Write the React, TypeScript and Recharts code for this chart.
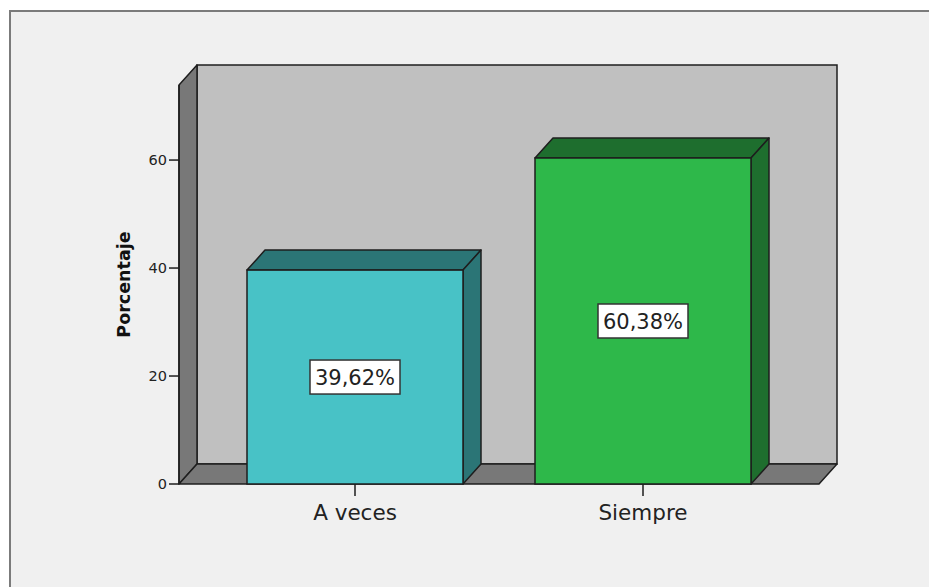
import React from 'react';
import { BarChart, Bar, XAxis, YAxis, ReferenceArea, LabelList, Label } from 'recharts';

const categories = ['A veces', 'Siempre'];
const percentages = [39.62, 60.38];
const valueLabels = ['39,62%', '60,38%'];
const yTicks = [0, 20, 40, 60];
const yMax = 73.9;

const FRONT = ['#48c2c6', '#2eb84a'];
const SIDE = ['#2b7576', '#1e6e2e'];
const EDGE = '#1e1e1e';
const DX = 18;
const DY = 20;
const PAD = 32;
const FONT = '"DejaVu Sans", sans-serif';

const data = categories.map((c, i) => ({ name: c, value: percentages[i], label: valueLabels[i] }));

const Walls = (props: any) => {
  const { x, y, width, height } = props;
  const L = x - PAD;
  const R = x + width + PAD;
  const T = y;
  const B = y + height;
  return (
    <g>
      <rect x={L + DX} y={T - DY} width={R - L} height={B - T} fill="#c0c0c0" stroke={EDGE} strokeWidth={1.5} />
      <polygon
        points={`${L},${T} ${L + DX},${T - DY} ${L + DX},${B - DY} ${L},${B}`}
        fill="#787878"
        stroke={EDGE}
        strokeWidth={1.5}
        strokeLinejoin="round"
      />
      <polygon
        points={`${L},${B} ${L + DX},${B - DY} ${R + DX},${B - DY} ${R},${B}`}
        fill="#787878"
        stroke={EDGE}
        strokeWidth={1.5}
        strokeLinejoin="round"
      />
    </g>
  );
};

const Bar3D = (props: any) => {
  const { x, y, width, height, index } = props;
  const f = FRONT[index % FRONT.length];
  const s = SIDE[index % SIDE.length];
  return (
    <g>
      <polygon
        points={`${x},${y} ${x + DX},${y - DY} ${x + width + DX},${y - DY} ${x + width},${y}`}
        fill={s}
        stroke={EDGE}
        strokeWidth={1.5}
        strokeLinejoin="round"
      />
      <polygon
        points={`${x + width},${y} ${x + width + DX},${y - DY} ${x + width + DX},${y + height - DY} ${x + width},${y + height}`}
        fill={s}
        stroke={EDGE}
        strokeWidth={1.5}
        strokeLinejoin="round"
      />
      <rect x={x} y={y} width={width} height={height} fill={f} stroke={EDGE} strokeWidth={1.5} />
    </g>
  );
};

const ValueBox = (props: any) => {
  const vb = props.viewBox && props.viewBox.width != null ? props.viewBox : props;
  const { x, y, width, height } = vb;
  const cx = x + width / 2;
  const cy = y + height / 2;
  const w = 90;
  const h = 34;
  return (
    <g>
      <rect x={cx - w / 2} y={cy - h / 2} width={w} height={h} fill="#ffffff" stroke="#333" strokeWidth={1.5} />
      <text
        x={cx}
        y={cy + 1}
        textAnchor="middle"
        dominantBaseline="central"
        fontFamily={FONT}
        fontSize={21}
        fill="#222"
      >
        {props.value}
      </text>
    </g>
  );
};

const YTitle = (props: any) => {
  const vb = props.viewBox;
  const cx = vb.x + 5;
  const cy = vb.y + vb.height / 2;
  return (
    <text
      x={cx}
      y={cy}
      transform={`rotate(-90, ${cx}, ${cy})`}
      textAnchor="middle"
      dominantBaseline="central"
      fontFamily={FONT}
      fontWeight="bold"
      fontSize={17.5}
      fill="#111"
    >
      Porcentaje
    </text>
  );
};

export default function App() {
  return (
    <div
      style={{
        position: 'fixed',
        left: 0,
        top: 0,
        width: 929,
        height: 587,
        overflow: 'hidden',
        background: '#ffffff',
      }}
    >
      <div
        style={{
          position: 'absolute',
          left: 9,
          top: 10,
          width: 920,
          height: 577,
          boxSizing: 'border-box',
          background: '#f0f0f0',
          borderTop: '2px solid #7b7b7b',
          borderLeft: '2px solid #7b7b7b',
        }}
      />
      <div style={{ position: 'absolute', left: 0, top: 0 }}>
        <BarChart
          width={929}
          height={587}
          data={data}
          margin={{ top: 85, right: 110, bottom: 63, left: 119 }}
          barSize={216}
        >
          <ReferenceArea y1={0} y2={yMax} ifOverflow="visible" shape={<Walls />} />
          <XAxis
            dataKey="name"
            padding={{ left: PAD, right: PAD }}
            axisLine={false}
            tickSize={12}
            tickMargin={9}
            tickLine={{ stroke: EDGE, strokeWidth: 1.5 }}
            tick={{ fontFamily: FONT, fontSize: 21.5, fill: '#222' }}
            height={40}
            interval={0}
          />
          <YAxis
            type="number"
            domain={[0, yMax]}
            ticks={yTicks}
            width={60}
            tickSize={10}
            tickMargin={2}
            axisLine={{ stroke: EDGE, strokeWidth: 1.5 }}
            tickLine={{ stroke: EDGE, strokeWidth: 1.5 }}
            tick={{ fontFamily: FONT, fontSize: 14.5, fill: '#222' }}
          >
            <Label content={<YTitle />} />
          </YAxis>
          <Bar dataKey="value" shape={<Bar3D />} isAnimationActive={false}>
            <LabelList dataKey="label" content={<ValueBox />} />
          </Bar>
        </BarChart>
      </div>
    </div>
  );
}
